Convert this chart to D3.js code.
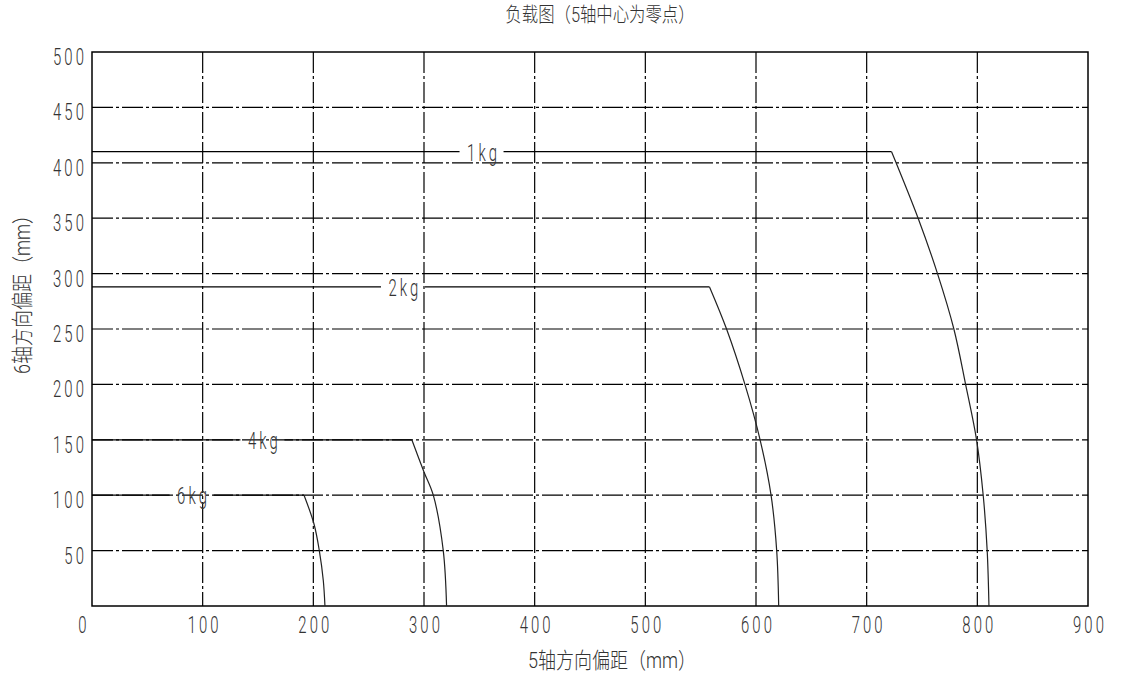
<!DOCTYPE html>
<html>
<head>
<meta charset="utf-8">
<script src="https://cdn.jsdelivr.net/npm/d3@7"></script>
<style>
  body { margin: 0; background: #fff; }
  svg text { font-family: Roboto, "Noto Sans CJK SC", sans-serif; font-weight: 300; fill: #333; }
</style>
</head>
<body>
<svg id="chart" width="1121" height="677"></svg>
<script>
// load curves, mm offsets (x along axis 5, y along axis 6)
const loads = ["1kg", "2kg", "4kg", "6kg"];
const curve1kg = [[0, 410], [722.5, 410], [746.5, 350], [764, 300], [778.8, 250], [789.4, 200], [799.3, 150], [805.3, 100], [808.9, 50], [810.5, 0]];
const curve2kg = [[0, 288], [558, 288], [573.4, 250], [590, 200], [603.7, 150], [613.6, 100], [618.7, 50], [620.5, 0]];
const curve4kg = [[0, 150], [289, 150], [300, 121], [308.4, 100], [317.4, 50], [320.4, 0]];
const curve6kg = [[0, 100], [191.6, 100], [200.6, 74], [205.4, 50], [209, 23], [210.5, 0]];
// where each label sits on its plateau (x in mm)
const labelAt = [352, 281, 154, 90];
const xTicks = [0, 100, 200, 300, 400, 500, 600, 700, 800, 900];
const yTicks = [50, 100, 150, 200, 250, 300, 350, 400, 450, 500];

const curves = [curve1kg, curve2kg, curve4kg, curve6kg];

const svg = d3.select("#chart");
const margin = { top: 52, right: 33, bottom: 71, left: 92 };
const width = 1121 - margin.left - margin.right;
const height = 677 - margin.top - margin.bottom;

const x = d3.scaleLinear().domain([0, 900]).range([0, width]);
const y = d3.scaleLinear().domain([0, 500]).range([height, 0]);

const g = svg.append("g").attr("transform", `translate(${margin.left},${margin.top})`);

// narrow CAD-like text: place then squeeze horizontally
const cadText = (sel, px, py, anchor, size, sx) => sel
  .attr("transform", (d, i) => `translate(${px(d, i)},${py(d, i)}) scale(${sx},1)`)
  .attr("text-anchor", anchor)
  .attr("font-size", size);

// dash-dot grid
g.selectAll(".vgrid")
  .data(xTicks.filter(d => d > 0 && d < 900))
  .enter().append("line")
  .attr("x1", d => x(d)).attr("x2", d => x(d))
  .attr("y1", 0).attr("y2", height)
  .attr("stroke", "#000").attr("stroke-width", 1.2)
  .attr("stroke-dasharray", "21,3,3,3");

g.selectAll(".hgrid")
  .data(yTicks.filter(d => d < 500))
  .enter().append("line")
  .attr("y1", d => y(d)).attr("y2", d => y(d))
  .attr("x1", 0).attr("x2", width)
  .attr("stroke", "#000").attr("stroke-width", 1.2)
  .attr("stroke-dasharray", "21,3,3,3");

// frame
g.append("rect")
  .attr("width", width).attr("height", height)
  .attr("fill", "none").attr("stroke", "#000").attr("stroke-width", 1.5);

// tick labels
g.selectAll(".xlab")
  .data(xTicks)
  .enter().append("text")
  .call(cadText, d => x(d) + (d === 0 ? -8 : 2), () => height + 27, "middle", 24, 0.62)
  .attr("letter-spacing", 5)
  .text(d => d);

g.selectAll(".ylab")
  .data(yTicks)
  .enter().append("text")
  .call(cadText, () => -5, d => y(d) + 13, "end", 24, 0.62)
  .attr("letter-spacing", 5)
  .text(d => d);

// plateau lines (broken around the label) + falling curves
const gap = 22;
curves.forEach((pts, i) => {
  const lv = pts[0][1];
  const xl = x(labelAt[i]);
  g.append("line")
    .attr("x1", x(0)).attr("x2", xl - gap)
    .attr("y1", y(lv)).attr("y2", y(lv))
    .attr("stroke", "#000").attr("stroke-width", 1.2);
  g.append("line")
    .attr("x1", xl + gap).attr("x2", x(pts[1][0]))
    .attr("y1", y(lv)).attr("y2", y(lv))
    .attr("stroke", "#000").attr("stroke-width", 1.2);

  const line = d3.line()
    .x(d => x(d[0])).y(d => y(d[1]))
    .curve(d3.curveCatmullRom.alpha(0.5));
  g.append("path")
    .datum(pts.slice(1))
    .attr("d", line)
    .attr("fill", "none")
    .attr("stroke", "#222").attr("stroke-width", 1.2);

  g.append("text")
    .datum(loads[i])
    .call(cadText, () => xl + 2, () => y(lv) + 9, "middle", 24, 0.62)
    .attr("letter-spacing", 5)
    .text(d => d);
});

// titles
svg.append("text")
  .attr("transform", "translate(600,22) scale(0.82,1)")
  .attr("text-anchor", "middle")
  .attr("font-size", 20)
  .text("负载图（5轴中心为零点）");

svg.append("text")
  .attr("transform", "translate(612,668) scale(0.82,1)")
  .attr("text-anchor", "middle")
  .attr("font-size", 22)
  .text("5轴方向偏距（mm）");

svg.append("text")
  .attr("transform", "translate(30,290) rotate(-90) scale(0.82,1)")
  .attr("text-anchor", "middle")
  .attr("font-size", 22)
  .text("6轴方向偏距（mm）");
</script>
</body>
</html>
